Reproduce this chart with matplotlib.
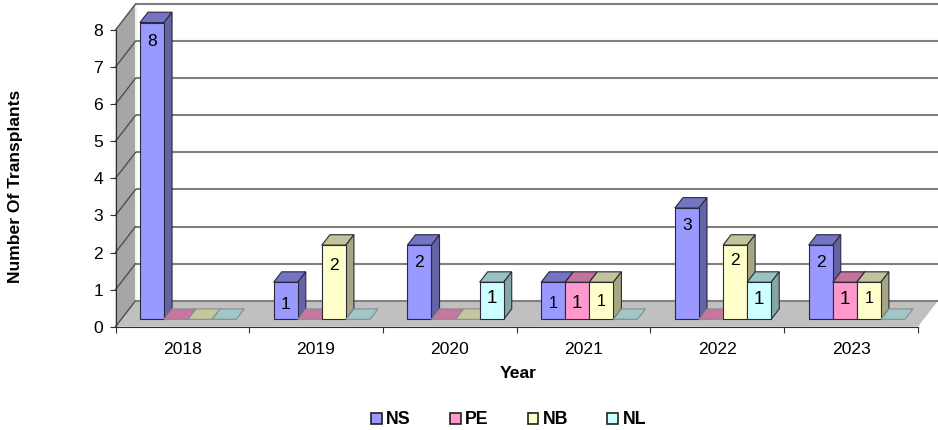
import matplotlib
matplotlib.use("Agg")
import matplotlib.pyplot as plt
from matplotlib.patches import Polygon, Patch
from matplotlib.colors import to_rgb

plt.rcParams['font.family'] = ['Liberation Sans', 'DejaVu Sans']

# data
years = ['2018', '2019', '2020', '2021', '2022', '2023']
provinces = ['NS', 'PE', 'NB', 'NL']
NS = [8, 1, 2, 1, 3, 2]
PE = [0, 0, 0, 1, 0, 1]
NB = [0, 2, 0, 1, 2, 1]
NL = [0, 0, 1, 0, 1, 0]
series = [NS, PE, NB, NL]
y_ticks = [0, 1, 2, 3, 4, 5, 6, 7, 8]

colors = ['#9999FF', '#FF99CC', '#FFFFCC', '#CCFFFF']

# (series, year): how far below the bar top the label sits (px), and its size
label_style = {
    (0, 0): (19, 12.6), (0, 1): (22, 12.6), (2, 1): (20, 12.6),
    (0, 2): (17, 12.6), (3, 2): (16, 13.5),
    (0, 3): (21, 11.5), (1, 3): (21, 13.5), (2, 3): (19, 11.5),
    (0, 4): (17, 12.6), (2, 4): (15, 12.6), (3, 4): (17, 13.5),
    (0, 5): (17, 12.6), (1, 5): (17, 13.5), (2, 5): (16, 11.5),
}

# depth of the fake 3D box, in data units
DX = 0.15
DY = 0.70
BAR_W = 0.18
BAR_GAP = 0.14


def shade(c, f):
    return tuple(v * f for v in to_rgb(c))


def poly(ax, pts, fc, ec='none', lw=0.0, z=1):
    ax.add_patch(Polygon(pts, closed=True, facecolor=fc, edgecolor=ec,
                         linewidth=lw, zorder=z, clip_on=False))


fig = plt.figure(figsize=(9.38, 4.3), dpi=100)
ax = fig.add_axes([115.5 / 938, (430 - 326.7) / 430, 822.5 / 938, 322.7 / 430])
ax.set_xlim(0, 6.15)
ax.set_ylim(0, 8.7)
ax.patch.set_visible(False)

n = len(years)

# left wall and floor
poly(ax, [(0, 0), (DX, DY), (DX, 8 + DY), (0, 8)], '#A6A6A6', z=1)
poly(ax, [(0, 0), (n, 0), (n + DX, DY), (DX, DY)], '#C0C0C0', z=1)
ax.plot([DX, DX], [DY, 8 + DY], color='#F2F2F2', lw=1.5, zorder=1.2)

# gridlines on the back wall and the left wall
for v in y_ticks:
    ax.plot([DX, n + DX], [v + DY, v + DY], color='#808080', lw=1.5, zorder=1.5,
            clip_on=False, solid_capstyle='butt')
    ax.plot([0, DX], [v, v + DY], color='#505050', lw=1.0, zorder=1.5, clip_on=False)

# bars, left to right
z = 2
for j in range(n):
    for i, vals in enumerate(series):
        v = vals[j]
        x0 = j + BAR_GAP + i * BAR_W + DX * 0.285
        x1 = x0 + BAR_W
        y0 = DY * 0.285
        ddx = DX * 0.4
        ddy = DY * 0.4
        c = colors[i]
        ec = '#2A2A3A' if v > 0 else '#8A8A8A'
        poly(ax, [(x0, y0 + v), (x1, y0 + v), (x1 + ddx, y0 + v + ddy), (x0 + ddx, y0 + v + ddy)],
             shade(c, 0.76 if v > 0 else 0.78), ec, 0.8, z)
        if v > 0:
            poly(ax, [(x1, y0), (x1 + ddx, y0 + ddy), (x1 + ddx, y0 + v + ddy), (x1, y0 + v)],
                 shade(c, 0.65), ec, 0.8, z)
            poly(ax, [(x0, y0), (x1, y0), (x1, y0 + v), (x0, y0 + v)], c, ec, 0.8, z)
        z += 0.01

# value labels
for (i, j), (drop, size) in label_style.items():
    x = j + BAR_GAP + (i + 0.5) * BAR_W + DX * 0.285
    ax.annotate(str(series[i][j]), (x, DY * 0.285 + series[i][j]), xytext=(0, -drop),
                textcoords='offset pixels', ha='center', va='center',
                fontsize=size, color='black', zorder=10)

# axes
for s in ['top', 'right']:
    ax.spines[s].set_visible(False)
ax.spines['left'].set_bounds(0, 8)
ax.spines['bottom'].set_bounds(0, n)
ax.spines['left'].set_color('#303030')
ax.spines['bottom'].set_color('#303030')
ax.spines['left'].set_zorder(1.6)
ax.spines['bottom'].set_zorder(1.6)

ax.set_yticks(y_ticks)
ax.set_xticks(range(n + 1))
ax.set_xticklabels([])
ax.set_xticks([j + 0.5 for j in range(n)], minor=True)
ax.set_xticklabels(years, minor=True)
ax.tick_params(axis='x', which='major', length=4.5, width=0.8, color='#303030')
ax.tick_params(axis='x', which='minor', length=0, pad=11, labelsize=12.6)
ax.tick_params(axis='y', length=4, width=0.8, color='#303030', pad=5, labelsize=12.6)

fig.text(518 / 938, 1 - 374 / 430, 'Year', ha='center', va='center', fontsize=12.6, fontweight='bold')
fig.text(15.5 / 938, 1 - 186 / 430, 'Number Of Transplants', rotation=90, ha='center', va='center',
         fontsize=12.6, fontweight='bold')

handles = [Patch(facecolor=c, edgecolor='#202020', linewidth=1.2) for c in colors]
fig.legend(handles, provinces, loc='center', bbox_to_anchor=(508.5 / 938, 1 - 420 / 430), ncol=4,
           frameon=False, handlelength=0.6, handleheight=0.6, handletextpad=0.25,
           columnspacing=2.2, prop={'weight': 'bold', 'size': 12.8})

fig.savefig('out.png', dpi=100)
